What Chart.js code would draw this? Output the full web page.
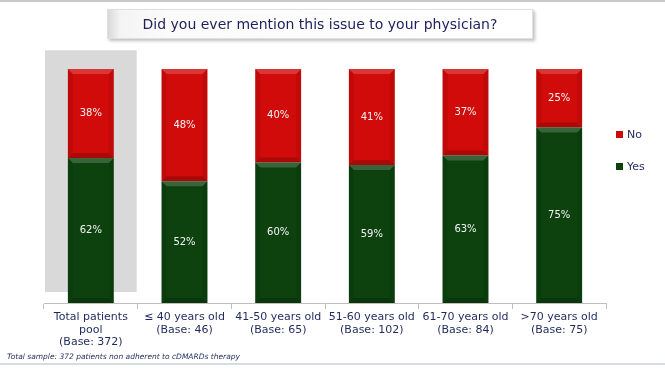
<!DOCTYPE html>
<html lang="en">
<head>
  <meta charset="UTF-8" />
  <title>Did you ever mention this issue to your physician?</title>
  <script src="https://cdn.jsdelivr.net/npm/chart.js"></script>
  <style>
    html, body { margin: 0; padding: 0; background: #fff; }
    body { width: 665px; height: 368px; position: relative; overflow: hidden; font-family: "DejaVu Sans", Verdana, sans-serif; }
    #wrap { position: absolute; left: 0; top: 0; width: 665px; height: 368px; }
    canvas { display: block; }
    .topline { position: absolute; left: 0; top: 0; width: 665px; height: 2px; background: #c8c8c8; }
    .botline { position: absolute; left: 0; top: 363px; width: 665px; height: 2px; background: #d8dbe3; }
    .title {
      position: absolute; left: 107px; top: 9px; width: 424px; height: 28px;
      background: linear-gradient(to right, #d9d9d9 0px, #f4f4f4 12px, #fbfbfb 60px, #fff 100%);
      border: 1px solid #e0e0e0;
      box-shadow: 2px 2px 3px rgba(0,0,0,0.25);
      color: #1f1f5c; font-size: 14px; line-height: 28px; text-align: center;
    }
    .note { position: absolute; left: 7px; top: 352px; font-size: 7.5px; font-style: italic; color: #1f2a5c; }
    .legend { position: absolute; left: 616px; font-size: 11px; color: #1f2a5c; }
    .legend span { display: inline-block; width: 7px; height: 7px; margin-right: 4px; vertical-align: 0px; }
  </style>
</head>
<body>
  <div class="topline"></div>
  <div id="wrap"><canvas id="chart" width="665" height="368"></canvas></div>
  <div class="title">Did you ever mention this issue to your physician?</div>
  <div class="legend" style="top:128px"><span style="background:#d10a0a"></span>No</div>
  <div class="legend" style="top:160px"><span style="background:#0d420f"></span>Yes</div>
  <div class="note">Total sample: 372 patients non adherent to cDMARDs therapy</div>
  <div class="botline"></div>

  <script>
    const categories = [
      ['Total patients', 'pool', '(Base: 372)'],
      ['\u2264 40 years old', '(Base: 46)'],
      ['41-50 years old', '(Base: 65)'],
      ['51-60 years old', '(Base: 102)'],
      ['61-70 years old', '(Base: 84)'],
      ['>70 years old', '(Base: 75)']
    ];
    const yesValues = [62, 52, 60, 59, 63, 75];
    const noValues = [38, 48, 40, 41, 37, 25];

    // grey highlight behind the total column
    const highlightPlugin = {
      id: 'highlight',
      beforeDatasetsDraw(chart) {
        const { ctx, scales: { x, y } } = chart;
        const half = (x.getPixelForValue(1) - x.getPixelForValue(0)) / 2;
        const cx = x.getPixelForValue(0);
        const top = y.getPixelForValue(108);
        const bottom = y.getPixelForValue(4.7);
        ctx.save();
        ctx.fillStyle = '#d9d9d9';
        ctx.fillRect(cx - half + 1, top, half * 2 - 2, bottom - top);
        ctx.restore();
      }
    };

    // bevel look on each bar segment + percentage labels
    const bevelPlugin = {
      id: 'bevel',
      afterDatasetsDraw(chart) {
        const { ctx } = chart;
        chart.data.datasets.forEach((ds, di) => {
          chart.getDatasetMeta(di).data.forEach((bar, i) => {
            const l = bar.x - bar.width / 2, r = bar.x + bar.width / 2;
            const t = Math.min(bar.y, bar.base), b = Math.max(bar.y, bar.base);
            const e = 5;
            ctx.save();
            // top light band
            ctx.fillStyle = 'rgba(255,255,255,0.18)';
            ctx.beginPath();
            ctx.moveTo(l, t); ctx.lineTo(r, t); ctx.lineTo(r - e, t + e); ctx.lineTo(l + e, t + e); ctx.closePath();
            ctx.fill();
            // sides darker
            ctx.fillStyle = 'rgba(0,0,0,0.08)';
            ctx.beginPath();
            ctx.moveTo(l, t); ctx.lineTo(l + e, t + e); ctx.lineTo(l + e, b - e); ctx.lineTo(l, b); ctx.closePath();
            ctx.fill();
            ctx.beginPath();
            ctx.moveTo(r, t); ctx.lineTo(r - e, t + e); ctx.lineTo(r - e, b - e); ctx.lineTo(r, b); ctx.closePath();
            ctx.fill();
            // bottom darker
            ctx.fillStyle = 'rgba(0,0,0,0.18)';
            ctx.beginPath();
            ctx.moveTo(l, b); ctx.lineTo(r, b); ctx.lineTo(r - e, b - e); ctx.lineTo(l + e, b - e); ctx.closePath();
            ctx.fill();
            // label
            ctx.fillStyle = '#f4f4f4';
            ctx.font = '10px "DejaVu Sans", Verdana, sans-serif';
            ctx.textAlign = 'center';
            ctx.textBaseline = 'middle';
            ctx.fillText(ds.data[i] + '%', bar.x, (t + b) / 2);
            ctx.restore();
          });
        });
      }
    };

    new Chart(document.getElementById('chart'), {
      type: 'bar',
      data: {
        labels: categories,
        datasets: [
          { label: 'Yes', data: yesValues, backgroundColor: '#0d420f', borderWidth: 0, barPercentage: 0.49, categoryPercentage: 1 },
          { label: 'No', data: noValues, backgroundColor: '#d10a0a', borderWidth: 0, barPercentage: 0.49, categoryPercentage: 1 }
        ]
      },
      options: {
        responsive: false,
        animation: false,
        layout: { padding: { left: 44, right: 59, top: 69, bottom: 0 } },
        plugins: { legend: { display: false }, tooltip: { enabled: false } },
        scales: {
          x: {
            stacked: true,
            afterFit: s => { s.height = 65; },
            grid: { offset: true, drawOnChartArea: false, tickLength: 6, color: '#bfbfbf' },
            border: { color: '#bfbfbf' },
            ticks: { color: '#1f2a5c', font: { family: '"DejaVu Sans", Verdana, sans-serif', size: 11, lineHeight: 1.15 }, padding: 2, maxRotation: 0, autoSkip: false }
          },
          y: { stacked: true, min: 0, max: 100, display: false }
        }
      },
      plugins: [highlightPlugin, bevelPlugin]
    });
  </script>
</body>
</html>
